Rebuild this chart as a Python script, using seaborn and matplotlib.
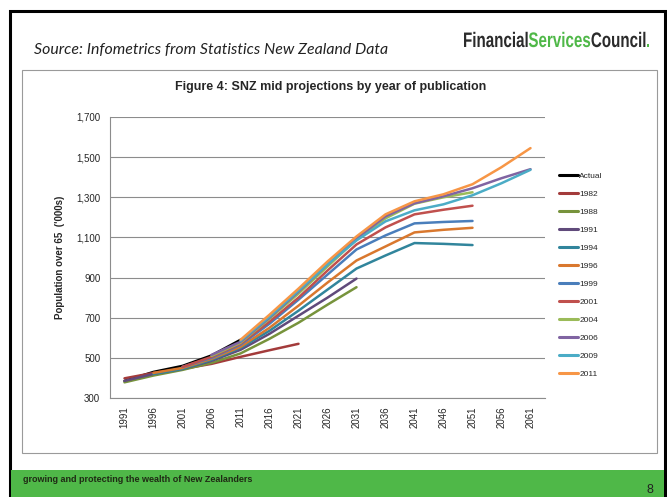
import seaborn as sns
import matplotlib.pyplot as plt
import pandas as pd
from matplotlib.patches import Rectangle, PathPatch
from matplotlib.textpath import TextPath
from matplotlib.font_manager import FontProperties
from matplotlib.transforms import Affine2D, IdentityTransform

years = [1991, 1996, 2001, 2006, 2011, 2016, 2021, 2026, 2031, 2036, 2041, 2046, 2051, 2056, 2061]

# values per series ('000s), keyed by first year of the series
actual = (1991, [385, 430, 460, 512, 590])
p1982 = (1991, [398, 425, 445, 470, 505, 538, 570])
p1988 = (1991, [378, 412, 440, 475, 522, 595, 675, 765, 852])
p1991 = (1991, [385, 420, 445, 485, 540, 620, 710, 800, 895])
p1994 = (1996, [420, 445, 490, 550, 635, 735, 840, 945, 1010, 1072, 1068, 1062])
p1996 = (1996, [425, 450, 495, 555, 650, 760, 875, 985, 1055, 1125, 1138, 1148])
p1999 = (2001, [455, 500, 565, 670, 790, 915, 1040, 1110, 1170, 1177, 1182])
p2001 = (2001, [455, 505, 570, 680, 800, 935, 1065, 1150, 1215, 1238, 1258])
p2004 = (2006, [510, 575, 695, 820, 955, 1090, 1195, 1268, 1300, 1325])
p2006 = (2006, [515, 580, 700, 830, 965, 1095, 1205, 1270, 1305, 1345, 1395, 1440])
p2009 = (2011, [585, 705, 835, 965, 1085, 1180, 1235, 1265, 1310, 1370, 1437])
p2011 = (2011, [590, 715, 845, 980, 1105, 1215, 1280, 1315, 1365, 1450, 1545])

series = {
    'Actual': actual, '1982': p1982, '1988': p1988, '1991': p1991,
    '1994': p1994, '1996': p1996, '1999': p1999, '2001': p2001,
    '2004': p2004, '2006': p2006, '2009': p2009, '2011': p2011,
}

colors = {
    'Actual': '#000000', '1982': '#a33b3b', '1988': '#77933c', '1991': '#604a7b',
    '1994': '#31859c', '1996': '#d9782e', '1999': '#4a7ebb', '2001': '#c0504d',
    '2004': '#9bbb59', '2006': '#8064a2', '2009': '#4bacc6', '2011': '#f79646',
}

rows = []
for name, (start, vals) in series.items():
    i0 = years.index(start)
    for yr, v in zip(years[i0:], vals):
        rows.append({'year': yr, 'value': v, 'series': name})
df = pd.DataFrame(rows)

sns.set_style('white')
plt.rcParams['font.family'] = ['Liberation Sans', 'DejaVu Sans']

fig = plt.figure(figsize=(6.67, 4.97), dpi=100)
W, H = 667, 497


def fx(px):
    return px / W


def fy(py):
    return 1 - py / H


# page frame, chart box and footer band
fig.patches.append(Rectangle((fx(10), 0), fx(655), fy(11), transform=fig.transFigure,
                             fill=False, ec='black', lw=2.2, zorder=0))
fig.patches.append(Rectangle((fx(22), fy(453)), fx(635), (453 - 70) / H, transform=fig.transFigure,
                             fill=False, ec='#9a9a9a', lw=0.8, zorder=0))
fig.patches.append(Rectangle((fx(11), 0), fx(653), 27 / H, transform=fig.transFigure,
                             fc='#4fb848', ec='none', zorder=1))

ax = fig.add_axes([fx(110), fy(398), fx(435), (398 - 117) / H])
sns.lineplot(data=df, x='year', y='value', hue='series', palette=colors,
             hue_order=list(series.keys()), linewidth=1.8, ax=ax, legend=True)

ax.set_xlim(1988.5, 2063.5)
ax.set_ylim(300, 1700)
ax.set_xticks(years)
ax.set_xticklabels([str(y) for y in years], rotation=90, fontsize=7)
ax.set_yticks(range(300, 1701, 200))
ax.set_yticklabels([f'{v:,}' for v in range(300, 1701, 200)], fontsize=7)
ax.yaxis.grid(True, color='#8c8c8c', lw=0.8)
ax.set_axisbelow(True)
ax.set_xlabel('')
ax.set_ylabel("Population over 65  ('000s)", fontsize=7, fontweight='bold', labelpad=8)
for s in ['top', 'right']:
    ax.spines[s].set_visible(False)
for s in ['left', 'bottom']:
    ax.spines[s].set_color('#8c8c8c')
    ax.spines[s].set_linewidth(0.8)
ax.tick_params(axis='x', length=0, pad=6)
ax.tick_params(axis='y', length=0, pad=7)

leg = ax.legend(loc='upper left', bbox_to_anchor=((556 - 110) / 435, (398 - 169) / 281),
                frameon=False, fontsize=6, handlelength=2.2, labelspacing=1.22,
                handletextpad=0.2, borderaxespad=0)
for line in leg.get_lines():
    line.set_linewidth(2.2)

fig.text(0.496, fy(87), 'Figure 4: SNZ mid projections by year of publication',
         ha='center', va='center', fontsize=9, fontweight='bold')
fig.text(fx(34), fy(50), 'Source: Infometrics from Statistics New Zealand Data',
         ha='left', va='center', fontsize=11.4, style='italic', color='#222222',
         family=['Lato', 'DejaVu Sans'])

# logo: bold text squeezed horizontally to look condensed
logo_parts = [('Financial', '#2b2b2b'), ('Services', '#4fb848'), ('Council', '#2b2b2b'), ('.', '#4fb848')]
prop = FontProperties(family='Liberation Sans', weight='bold')
paths = [TextPath((0, 0), w, size=21, prop=prop) for w, _ in logo_parts]
widths = [p.get_extents().x1 + 1 for p in paths]
sx = 187 / sum(widths)
x0 = 463
for p, (w, col), wd in zip(paths, logo_parts, widths):
    tr = Affine2D().scale(sx, 1).translate(x0, H - 47)
    fig.patches.append(PathPatch(tr.transform_path(p), transform=IdentityTransform(),
                                 fc=col, ec='none'))
    x0 += wd * sx

fig.text(fx(23), fy(479), 'growing and protecting the wealth of New Zealanders',
         ha='left', va='center', fontsize=6.5, fontweight='bold', color='#1f2a14')
fig.text(fx(650), fy(490), '8', ha='center', va='center', fontsize=9, color='#222222')

fig.savefig('out.png', dpi=100)
